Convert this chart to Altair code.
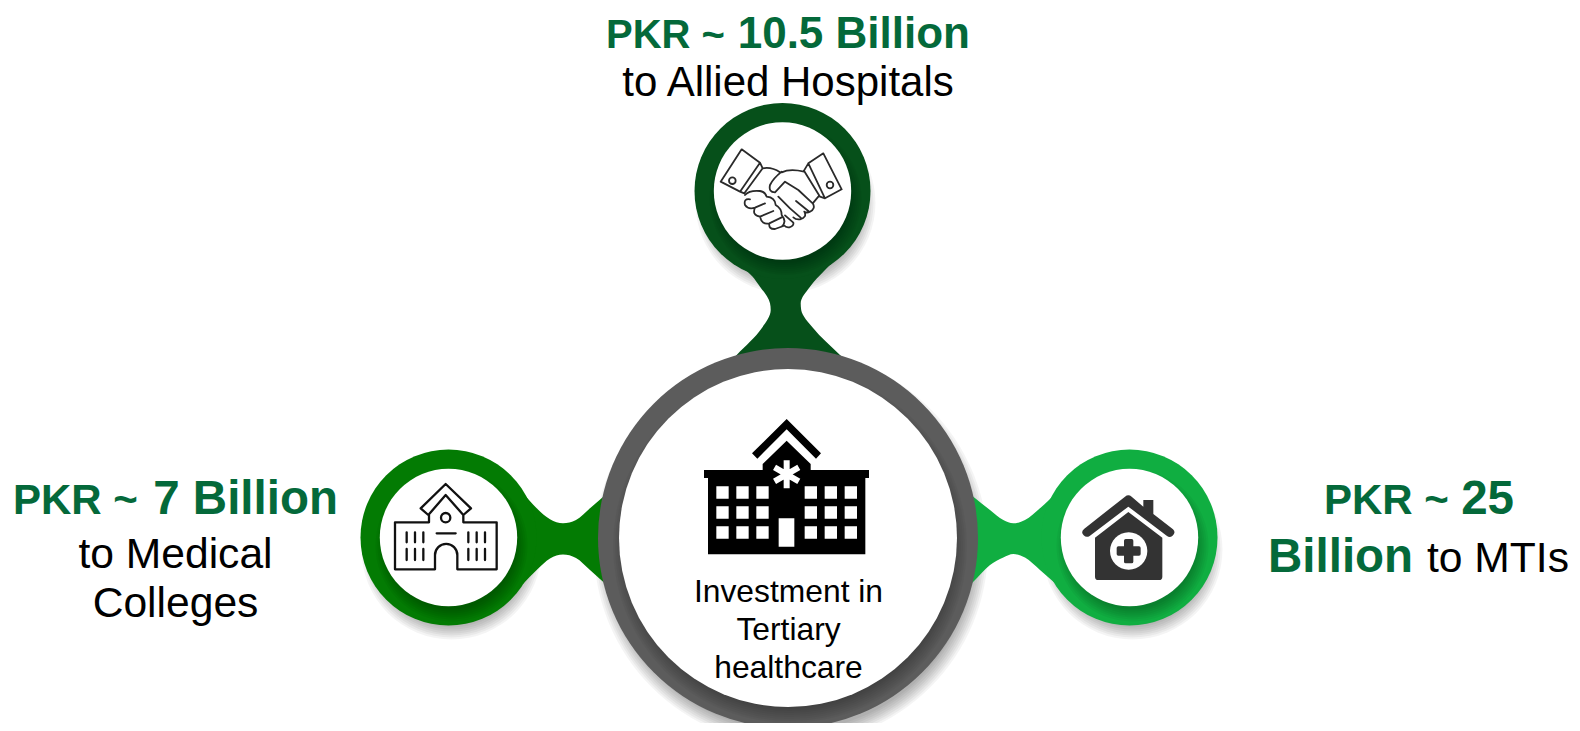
import altair as alt
import pandas as pd

PAGE_W, PAGE_H, MARGIN = 1580, 731, 8
X = alt.Scale(domain=[MARGIN, PAGE_W - MARGIN], nice=False, zero=False)
Y = alt.Scale(domain=[PAGE_H - MARGIN, MARGIN], nice=False, zero=False)

# Circles: name, centre x, centre y, outer radius, inner radius, colour
NODE_NAMES = ["top", "left", "right"]
NODE_X = [782.5, 448.5, 1129.5]
NODE_Y = [191, 537.5, 537.5]
NODE_COLORS = ["#06501a", "#037b03", "#10ae41"]
NODE_OUTER = 88
NODE_INNER = 68.7
HUB_X, HUB_Y, HUB_OUTER, HUB_INNER, HUB_COLOR = 788, 538, 190, 169, "#5c5c5c"

# Connector outlines
LEFT_X = [523, 536.7, 550, 563, 576, 590, 603.3, 622]
LEFT_Y1 = [493, 508.3, 519.3, 523.3, 520, 508.3, 496.7, 480]
LEFT_Y2 = [584, 570, 558.5, 554.5, 558, 570, 582, 598]
RIGHT_X = [955, 973.3, 990, 1003.3, 1013.3, 1025, 1040, 1056]
RIGHT_Y1 = [482, 496.7, 510, 520, 523.3, 520, 508.3, 493]
RIGHT_Y2 = [596, 581.7, 565, 557.5, 554, 557.5, 570, 584]
TOP_Y = [263, 270, 286.7, 303.3, 310, 328.3, 355, 372]
TOP_X1 = [733, 745, 760, 770, 770.7, 761.7, 736.7, 720]
TOP_X2 = [832, 825, 810, 800.7, 801.2, 813.3, 840, 858]

# Icon outlines (path units are thirds of a pixel, from each icon's origin)
HOSPITAL_ORIGIN = (590, 340)
HOSPITAL_DARK = ("M590,237L693,340L678,356L590,268L502,356L486,340Z"
                 "M590,302L662,372L662,390L837,390L837,414L826,414L826,643L354,643L354,414L342,414L342,390L518,390L518,372Z")
HOSPITAL_LIGHT = (
    "M379,439H416V476H379ZM439,439H476V476H439ZM499,439H536V476H499ZM644,439H681V476H644ZM704,439H741V476H704ZM764,439H801V476H764Z"
    "M379,499H416V536H379ZM439,499H476V536H439ZM499,499H536V536H499ZM644,499H681V536H644ZM704,499H741V536H704ZM764,499H801V536H764Z"
    "M379,559H416V596H379ZM439,559H476V596H439ZM499,559H536V596H499ZM644,559H681V596H644ZM704,559H741V596H704ZM764,559H801V596H764Z"
    "M566,535H613V620H566Z"
    "M581,361V445H599V361Z"
    "M621.9,431.8L630.9,416.2L558.1,374.2L549.1,389.8Z"
    "M630.9,389.8L621.9,374.2L549.1,416.2L558.1,431.8Z")

SHAKE_ORIGIN = (710, 140)
SHAKE_LINES = (
    "M95,28L150,68L90,155L32,125Z"
    "M150,68L158,85L103,160L90,155"
    "M57,122A10,10 0 1 0 77,122A10,10 0 1 0 57,122Z"
    "M340,40L395,148L345,175L295,70Z"
    "M295,70L282,92L330,170L345,175"
    "M350,135A10,10 0 1 0 370,135A10,10 0 1 0 350,135Z"
    "M158,85Q185,80 210,97"
    "M215,97Q240,85 282,95"
    "M215,95Q190,115 180,135Q175,157 195,157L225,125L265,150L308,190Q318,205 300,215Q290,220 283,215"
    "M325,170L310,188"
    "M258,183L295,213"
    "M240,205L272,233"
    "M283,215Q292,232 270,238Q258,240 250,232"
    "M225,226L250,248Q252,258 238,262Q228,264 222,256"
    "M105,165Q118,150 150,153Q165,155 170,170Q195,172 197,195Q215,205 215,225Q232,245 215,260"
    "M205,170L240,205"
    "M120,178Q100,175 105,195Q115,210 135,203L165,190"
    "M135,203Q125,225 150,230L190,213"
    "M150,230Q155,255 178,250L215,232"
    "M178,250Q175,268 195,267L220,258")

SCHOOL_ORIGIN = (385, 475)
SCHOOL_LINES = (
    "M182,27L258,100L235,120L182,60L130,120L107,100Z"
    "M132,120V142H30V283H150V240A33,33 0 0 1 217,240V283H335V142H235V120"
    "M168,128A14,14 0 1 0 196,128A14,14 0 1 0 168,128Z"
    "M155,175H212"
    "M65,172V202M90,172V202M115,172V202M250,172V202M275,172V202M300,172V202"
    "M65,222V255M90,222V255M115,222V255M250,222V255M275,222V255M300,222V255")

HOUSE_ORIGIN = (1075, 490)
HOUSE_DARK = (
    "M150,20Q160,12 170,20L205,50V30H235V72L294,118Q304,128 292,138Q284,144 276,138L160,50L44,138Q34,144 26,136Q16,126 28,116Z"
    "M160,66L262,143V260Q262,270 252,270H70Q60,270 60,260V143Z")
HOUSE_CIRCLE = "M105,183A56,56 0 1 0 217,183A56,56 0 1 0 105,183Z"
HOUSE_CROSS = ("M147,152Q147,147 152,147H170Q175,147 175,152V169H192Q197,169 197,174V192Q197,197 192,197H175V215"
               "Q175,220 170,220H152Q147,220 147,215V197H130Q125,197 125,192V174Q125,169 130,169H147Z")

# Labels: text, x, baseline y, size, weight, align, colour
GREEN = "#04693a"
BLACK = "#000000"
LABEL_TEXT = ["PKR ~", "10.5 Billion", "to Allied Hospitals",
              "PKR ~", "7 Billion", "to Medical", "Colleges",
              "PKR ~", "25", "Billion", "to MTIs",
              "Investment in", "Tertiary", "healthcare"]
LABEL_X = [606, 970, 788,
           13, 338, 175.5, 175.5,
           1324, 1514, 1268, 1569,
           788.5, 788.5, 788.5]
LABEL_Y = [48, 48, 96,
           514, 514, 568, 617,
           514, 514, 572, 572,
           602, 640, 678]
LABEL_SIZE = [40, 44, 42,
              42, 47.5, 42.6, 42.6,
              42, 47.5, 47.5, 42.6,
              31.8, 31.8, 31.8]
LABEL_WEIGHT = ["bold", "bold", "normal",
                "bold", "bold", "normal", "normal",
                "bold", "bold", "bold", "normal",
                "normal", "normal", "normal"]
LABEL_ALIGN = ["left", "right", "center",
               "left", "right", "center", "center",
               "left", "right", "left", "right",
               "center", "center", "center"]
LABEL_COLOR = [GREEN, GREEN, BLACK,
               GREEN, GREEN, BLACK, BLACK,
               GREEN, GREEN, GREEN, BLACK,
               BLACK, BLACK, BLACK]

# Soft shadows, built from stacks of translucent discs
OUTER_SHADOW_RADII = [76, 78, 80, 82, 84, 86, 88, 90]
INNER_SHADOW_RADII = [64, 66, 68, 70, 72, 74, 76]
HUB_OUTER_RADII = [183, 185, 187, 189, 191, 193, 195, 197]
HUB_INNER_RADII = [163, 165, 167, 169, 171, 173, 175, 177]
NODE_OUTER_OFFSET = (3, 12)
NODE_INNER_OFFSET = (3, 8)
HUB_OUTER_OFFSET = (3, 10)
HUB_INNER_OFFSET = (2, 8)


def enc(**kw):
    return dict(x=alt.X("x:Q", scale=X, axis=None), y=alt.Y("y:Q", scale=Y, axis=None), **kw)


def disc(x, y, r, color, opacity=1.0):
    df = pd.DataFrame({"x": [x], "y": [y]})
    return alt.Chart(df).mark_circle(color=color, opacity=opacity, size=(2 * r) ** 2).encode(**enc())


def stack(x, y, radii, offset, opacity):
    return [disc(x + offset[0], y + offset[1], r, "#000000", opacity) for r in reversed(radii)]


def hband(xs, y1, y2, color):
    df = pd.DataFrame({"x": xs, "y": y1, "y2": y2})
    return alt.Chart(df).mark_area(color=color, interpolate="monotone", opacity=1).encode(
        x=alt.X("x:Q", scale=X, axis=None),
        y=alt.Y("y:Q", scale=Y, axis=None),
        y2="y2:Q",
    )


def vband(ys, x1, x2, color):
    df = pd.DataFrame({"y": ys, "x": x1, "x2": x2})
    return alt.Chart(df).mark_area(color=color, interpolate="monotone", orient="horizontal", opacity=1).encode(
        y=alt.Y("y:Q", scale=Y, axis=None),
        x=alt.X("x:Q", scale=X, axis=None),
        x2="x2:Q",
    )


def icon(origin, path, fill=None, stroke=None, width=1.0):
    df = pd.DataFrame({"x": [origin[0]], "y": [origin[1]]})
    props = dict(shape=path, size=4 / 9, opacity=1)
    if fill:
        props.update(filled=True, fill=fill)
    else:
        props.update(filled=False, stroke=stroke, strokeWidth=width, strokeCap="round", strokeJoin="round")
    return alt.Chart(df).mark_point(**props).encode(**enc())


layers = []
for nx, ny in zip(NODE_X, NODE_Y):
    layers += stack(nx, ny, OUTER_SHADOW_RADII, NODE_OUTER_OFFSET, 0.045)
layers += stack(HUB_X, HUB_Y, HUB_OUTER_RADII, HUB_OUTER_OFFSET, 0.045)

layers.append(vband(TOP_Y, TOP_X1, TOP_X2, NODE_COLORS[0]))
layers.append(hband(LEFT_X, LEFT_Y1, LEFT_Y2, NODE_COLORS[1]))
layers.append(hband(RIGHT_X, RIGHT_Y1, RIGHT_Y2, NODE_COLORS[2]))

for nx, ny, color in zip(NODE_X, NODE_Y, NODE_COLORS):
    layers.append(disc(nx, ny, NODE_OUTER, color))
    layers += stack(nx, ny, INNER_SHADOW_RADII, NODE_INNER_OFFSET, 0.04)
    layers.append(disc(nx, ny, NODE_INNER, "#ffffff"))

layers.append(disc(HUB_X, HUB_Y, HUB_OUTER, HUB_COLOR))
layers += stack(HUB_X, HUB_Y, HUB_INNER_RADII, HUB_INNER_OFFSET, 0.035)
layers.append(disc(HUB_X, HUB_Y, HUB_INNER, "#ffffff"))

layers += [
    icon(HOSPITAL_ORIGIN, HOSPITAL_DARK, fill="#000000"),
    icon(HOSPITAL_ORIGIN, HOSPITAL_LIGHT, fill="#ffffff"),
    icon(SHAKE_ORIGIN, SHAKE_LINES, stroke="#2a2a2a", width=1.8),
    icon(SCHOOL_ORIGIN, SCHOOL_LINES, stroke="#111111", width=2.3),
    icon(HOUSE_ORIGIN, HOUSE_DARK, fill="#333333"),
    icon(HOUSE_ORIGIN, HOUSE_CIRCLE, fill="#ffffff"),
    icon(HOUSE_ORIGIN, HOUSE_CROSS, fill="#333333"),
]

labels = pd.DataFrame({
    "text": LABEL_TEXT, "x": LABEL_X, "y": LABEL_Y, "size": LABEL_SIZE,
    "weight": LABEL_WEIGHT, "align": LABEL_ALIGN, "color": LABEL_COLOR,
})
for (size, weight, align, color), group in labels.groupby(["size", "weight", "align", "color"]):
    layers.append(
        alt.Chart(group).mark_text(
            font="Liberation Sans", fontSize=size, fontWeight=weight, align=align,
            baseline="alphabetic", color=color,
        ).encode(text="text:N", **enc())
    )

chart = (
    alt.layer(*layers)
    .properties(width=PAGE_W - 2 * MARGIN, height=PAGE_H - 2 * MARGIN, padding=0,
                autosize=alt.AutoSizeParams(type="none"), background="#ffffff")
    .configure_view(strokeWidth=0)
)
chart.save("out.html", embed_options={"renderer": "svg", "actions": False})
